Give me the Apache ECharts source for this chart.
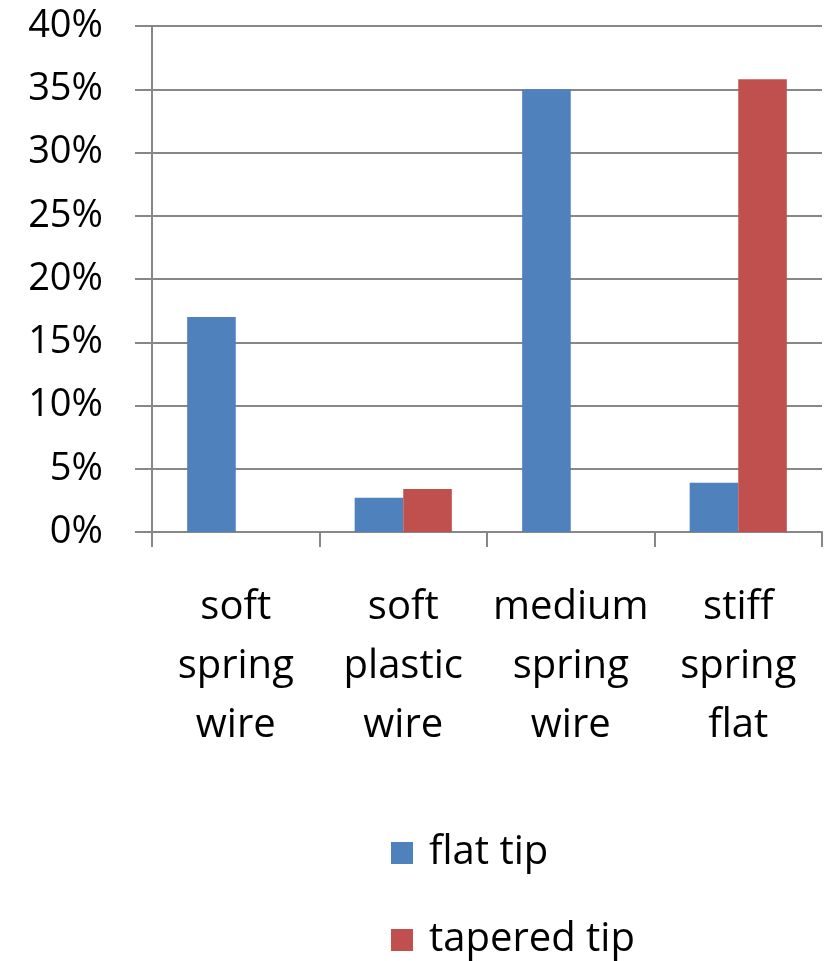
<!DOCTYPE html>
<html>
<head>
<meta charset="utf-8">
<script src="https://cdn.jsdelivr.net/npm/echarts@6/dist/echarts.min.js"></script>
<style>
  html, body { margin: 0; padding: 0; background: #fff; }
  #chart { width: 827px; height: 961px; }
</style>
</head>
<body>
<div id="chart"></div>
<script>
// Tip shapes by wire type, share of cases (%)
const categories = ['soft\nspring\nwire', 'soft\nplastic\nwire', 'medium\nspring\nwire', 'stiff\nspring\nflat'];
const seriesNames = ['flat tip', 'tapered tip'];
const flatTip = [17, 2.7, 35, 3.9];
const taperedTip = [0, 3.4, 0, 35.8];
const yTicks = [0, 5, 10, 15, 20, 25, 30, 35, 40];

const FONT = '"Open Sans", "Noto Sans", sans-serif';
const GRID_COLOR = '#878787';
const COLORS = ['#4F81BD', '#C0504D'];

// One legend block per series so the entries stack vertically
function legendBlock(name, top) {
  return {
    left: 386,
    top: top,
    itemWidth: 22,
    itemHeight: 22,
    icon: 'rect',
    textStyle: { fontSize: 40, color: '#000', fontFamily: FONT, padding: [0, 0, 0, 11] },
    data: [name]
  };
}

const chart = echarts.init(document.getElementById('chart'), null, { renderer: 'canvas' });
chart.setOption({
  animation: false,
  textStyle: { fontFamily: FONT },
  grid: { left: 152, right: 5, top: 26, bottom: 429, containLabel: false },
  legend: [legendBlock(seriesNames[0], 828), legendBlock(seriesNames[1], 915)],
  xAxis: {
    type: 'category',
    data: categories,
    axisLine: { show: true, lineStyle: { color: GRID_COLOR, width: 2 } },
    axisTick: { show: true, length: 15, lineStyle: { color: GRID_COLOR, width: 2 } },
    axisLabel: {
      fontSize: 40,
      color: '#000',
      fontFamily: FONT,
      lineHeight: 59,
      margin: 46,
      interval: 0
    }
  },
  yAxis: {
    type: 'value',
    min: yTicks[0],
    max: yTicks[yTicks.length - 1],
    interval: 5,
    axisLine: { show: true, lineStyle: { color: GRID_COLOR, width: 2 } },
    axisTick: { show: true, length: 17, lineStyle: { color: GRID_COLOR, width: 2 } },
    splitLine: { show: true, lineStyle: { color: GRID_COLOR, width: 2 } },
    axisLabel: {
      fontSize: 38,
      color: '#000',
      fontFamily: FONT,
      margin: 49,
      formatter: v => v + '%'
    }
  },
  series: [
    {
      name: seriesNames[0],
      type: 'bar',
      data: flatTip,
      barGap: '0%',
      barCategoryGap: '42%',
      itemStyle: { color: COLORS[0] }
    },
    {
      name: seriesNames[1],
      type: 'bar',
      data: taperedTip,
      barGap: '0%',
      barCategoryGap: '42%',
      itemStyle: { color: COLORS[1] }
    }
  ]
});
</script>
</body>
</html>
